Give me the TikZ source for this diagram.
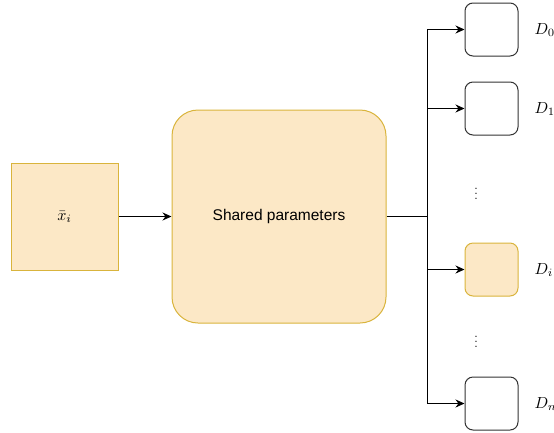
\documentclass[tikz,border=0pt]{standalone}
\usepackage{fontspec}
\setsansfont{Liberation Sans}
\usetikzlibrary{arrows.meta}
\definecolor{boxfill}{HTML}{FCE8C6}
\definecolor{boxline}{HTML}{D9B43C}
\begin{document}
\begin{tikzpicture}[x=1pt,y=-1pt,
    mathlabel/.style={scale=1.6},
    dotlabel/.style={scale=1.25},
    inbox/.style={draw=boxline,fill=boxfill,line width=1pt,minimum size=107pt,inner sep=0pt},
    sharedbox/.style={draw=boxline,fill=boxfill,line width=1pt,rounded corners=26pt,
        minimum width=214pt,minimum height=213pt,inner sep=0pt,font=\sffamily\fontsize{15.5}{18}\selectfont},
    outbox/.style={draw=black!80,fill=white,line width=1pt,rounded corners=8pt,minimum size=53pt,inner sep=0pt}]
\useasboundingbox (0,0) rectangle (554,432);
\begin{scope}

    \node[inbox] (X) at (64.5,216.5) {};
    \node[mathlabel] (XL) at (64.5,217) {$\bar{x}_i$};
    \node[sharedbox] (S) at (279,216.5) {Shared parameters};

    \node[outbox] (D0) at (491.5,29.5) {};
    \node[outbox] (D1) at (491.5,108.5) {};
    \node[outbox,draw=boxline,fill=boxfill] (Di) at (491.5,269.5) {};
    \node[outbox] (Dn) at (491.5,403.5) {};

    \node[mathlabel,anchor=west] (L0) at (529,30) {$D_0$};
    \node[mathlabel,anchor=west] (L1) at (529,109) {$D_1$};
    \node[mathlabel,anchor=west] (Li) at (529,270) {$D_i$};
    \node[mathlabel,anchor=west] (Ln) at (529,404) {$D_n$};

    \node[dotlabel] (V1) at (476,190) {$\vdots$};
    \node[dotlabel] (V2) at (476,338) {$\vdots$};

    \coordinate (T) at (427,216.5);

\end{scope}

\begin{scope} [every edge/.style={draw=black,line width=1pt}]

    \path[-{Stealth[length=9pt,width=8pt]}] (X) edge (S);
    \path (S.east) edge (T);
    \path[-{Stealth[length=9pt,width=8pt]}] (T) edge[to path={|- (\tikztotarget)}] (D0);
    \path[-{Stealth[length=9pt,width=8pt]}] (T) edge[to path={|- (\tikztotarget)}] (D1);
    \path[-{Stealth[length=9pt,width=8pt]}] (T) edge[to path={|- (\tikztotarget)}] (Di);
    \path[-{Stealth[length=9pt,width=8pt]}] (T) edge[to path={|- (\tikztotarget)}] (Dn);

\end{scope}

\end{tikzpicture}
\end{document}
